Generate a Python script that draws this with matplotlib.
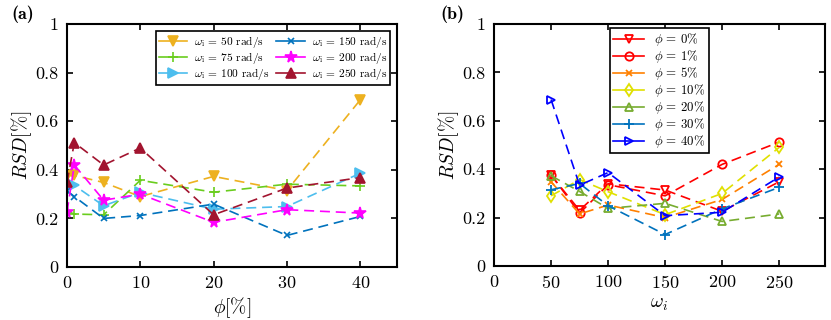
import numpy as np
import matplotlib
matplotlib.use("Agg")
import matplotlib.pyplot as plt

plt.rcParams["font.family"] = "serif"
plt.rcParams["font.serif"] = ["cmr10"]
plt.rcParams["mathtext.fontset"] = "cm"
plt.rcParams["axes.formatter.use_mathtext"] = True
plt.rcParams["axes.unicode_minus"] = False

# volume fraction phi [%] and rotation speed omega_i [rad/s]
phi = [0, 1, 5, 10, 20, 30, 40]
omega = [50, 75, 100, 150, 200, 250]

# RSD [%] for each omega, listed over phi
rsd_w50 = [0.375, 0.377, 0.348, 0.29, 0.373, 0.315, 0.688]
rsd_w75 = [0.23, 0.218, 0.215, 0.357, 0.308, 0.341, 0.334]
rsd_w100 = [0.34, 0.336, 0.252, 0.307, 0.238, 0.249, 0.386]
rsd_w150 = [0.314, 0.29, 0.20, 0.212, 0.259, 0.13, 0.208]
rsd_w200 = [0.226, 0.42, 0.275, 0.30, 0.184, 0.236, 0.222]
rsd_w250 = [0.348, 0.512, 0.42, 0.49, 0.215, 0.325, 0.368]

rsd = np.array([rsd_w50, rsd_w75, rsd_w100, rsd_w150, rsd_w200, rsd_w250])

colors_a = ["#EDB120", "#6ACD1E", "#4DBEEE", "#0072BD", "#FF00FF", "#A2142F"]
markers_a = ["v", "+", ">", "x", "*", "^"]
msize_a = [6.5, 7, 6.5, 4, 8.5, 6.5]

colors_b = ["#FF0000", "#FF0000", "#FF8000", "#E0E000", "#77AC30", "#0072BD", "#0000FF"]
markers_b = ["v", "o", "x", "d", "^", "+", ">"]
msize_b = [6, 6, 4, 6, 6, 7, 6]


def style_axes(ax):
    ax.tick_params(direction="in", top=True, right=True, length=4, width=1.2,
                   labelsize=13, pad=6)
    for s in ax.spines.values():
        s.set_linewidth(1.5)
    ax.set_ylim(0, 1)
    ax.set_yticks([0, 0.2, 0.4, 0.6, 0.8, 1])
    ax.set_yticklabels(["0", "0.2", "0.4", "0.6", "0.8", "1"])
    ax.set_ylabel(r"$RSD[\%]$", fontsize=14, labelpad=1)


def solid_handles(leg):
    for line in leg.get_lines():
        line.set_linestyle("-")
    leg.get_frame().set_linewidth(1.2)


def main():
    fig = plt.figure(figsize=(8.31, 3.20), dpi=100)
    ax1 = fig.add_axes([0.0806, 0.1656, 0.397, 0.759])
    ax2 = fig.add_axes([0.5945, 0.1688, 0.398, 0.756])

    for i, w in enumerate(omega):
        ax1.plot(phi, rsd[i], color=colors_a[i], marker=markers_a[i],
                 markersize=msize_a[i], markeredgewidth=1.2, linewidth=1.2,
                 linestyle=(0, (6, 3.5)),
                 label=r"$\omega_{\rm i}$ = %d rad/s" % w)
    style_axes(ax1)
    ax1.set_xlim(0, 45)
    ax1.set_xticks([0, 10, 20, 30, 40])
    ax1.set_xlabel(r"$\phi[\%]$", fontsize=14, labelpad=3)
    leg = ax1.legend(ncol=2, loc="upper right", fontsize=8.2, fancybox=False,
                     framealpha=1, edgecolor="black", handlelength=2.5,
                     columnspacing=0.6, handletextpad=0.6, labelspacing=0.0,
                     borderaxespad=0.6, borderpad=0.25)
    solid_handles(leg)

    for j, p in enumerate(phi):
        ax2.plot(omega, rsd[:, j], color=colors_b[j], marker=markers_b[j],
                 markersize=msize_b[j], markerfacecolor="none",
                 markeredgewidth=1.3, linewidth=1.2, linestyle=(0, (6, 3.5)),
                 label=r"$\phi$ = %d%%" % p)
    style_axes(ax2)
    ax2.set_xlim(0, 290)
    ax2.set_xticks([0, 50, 100, 150, 200, 250])
    ax2.set_xlabel(r"$\omega_i$", fontsize=14, labelpad=3)
    leg = ax2.legend(loc="upper center", fontsize=9.3, fancybox=False,
                     framealpha=1, edgecolor="black", handlelength=2.4,
                     handletextpad=0.8, labelspacing=0.0,
                     borderaxespad=0.3, borderpad=0.25)
    solid_handles(leg)

    fig.text(0.014, 0.955, "(a)", fontsize=13, fontfamily="cmb10", va="center")
    fig.text(0.53, 0.955, "(b)", fontsize=13, fontfamily="cmb10", va="center")

    fig.savefig("out.png", dpi=100)


if __name__ == "__main__":
    main()
